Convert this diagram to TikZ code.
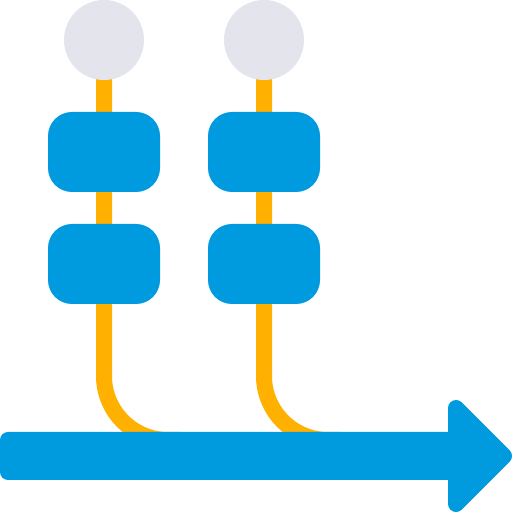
\documentclass[tikz,border=0pt]{standalone}
\usepackage{xcolor}
\usetikzlibrary{backgrounds}
\definecolor{flowblue}{HTML}{009ADE}
\definecolor{stemorange}{HTML}{FFB000}
\definecolor{headgray}{HTML}{E4E5EC}
\begin{document}
\begin{tikzpicture}[
  ball/.style={circle, fill=headgray, minimum size=8mm, inner sep=0pt, outer sep=0pt},
  block/.style={rectangle, fill=flowblue, rounded corners=2.4mm, outer sep=0pt,
                minimum width=11.2mm, minimum height=8mm, inner sep=0pt},
  shaft/.style={rectangle, fill=flowblue, rounded corners=0.8mm, anchor=west, outer sep=0pt,
                minimum width=46mm, minimum height=4.8mm, inner sep=0pt},
  stem/.style={draw=stemorange, line width=1.6mm, rounded corners=6.4mm}
]
  \useasboundingbox (0,0) rectangle (5.12,5.12);
  % first column
  \node[ball]  (balla)   at (1.04,4.72) {};
  \node[block] (blockaa) at (1.04,3.60) {};
  \node[block] (blockab) at (1.04,2.48) {};
  % second column
  \node[ball]  (ballb)   at (2.64,4.72) {};
  \node[block] (blockba) at (2.64,3.60) {};
  \node[block] (blockbb) at (2.64,2.48) {};
  % arrow
  \node[shaft] (shaft) at (0,0.56) {};
  \fill[flowblue] (4.48,0.56) -- (4.48,1.04) arc[start angle=180, end angle=45, radius=0.08]
    -- (5.0966,0.6166) arc[start angle=45, end angle=-45, radius=0.08]
    -- (4.6166,0.0234) arc[start angle=-45, end angle=-180, radius=0.08] -- cycle;
  % stems into the arrow
  \coordinate (enda) at (1.80,0.72);
  \coordinate (endb) at (3.40,0.72);
  \begin{scope}[on background layer]
    \draw[stem] (balla.center) |- (enda);
    \draw[stem] (ballb.center) |- (endb);
  \end{scope}
\end{tikzpicture}
\end{document}
